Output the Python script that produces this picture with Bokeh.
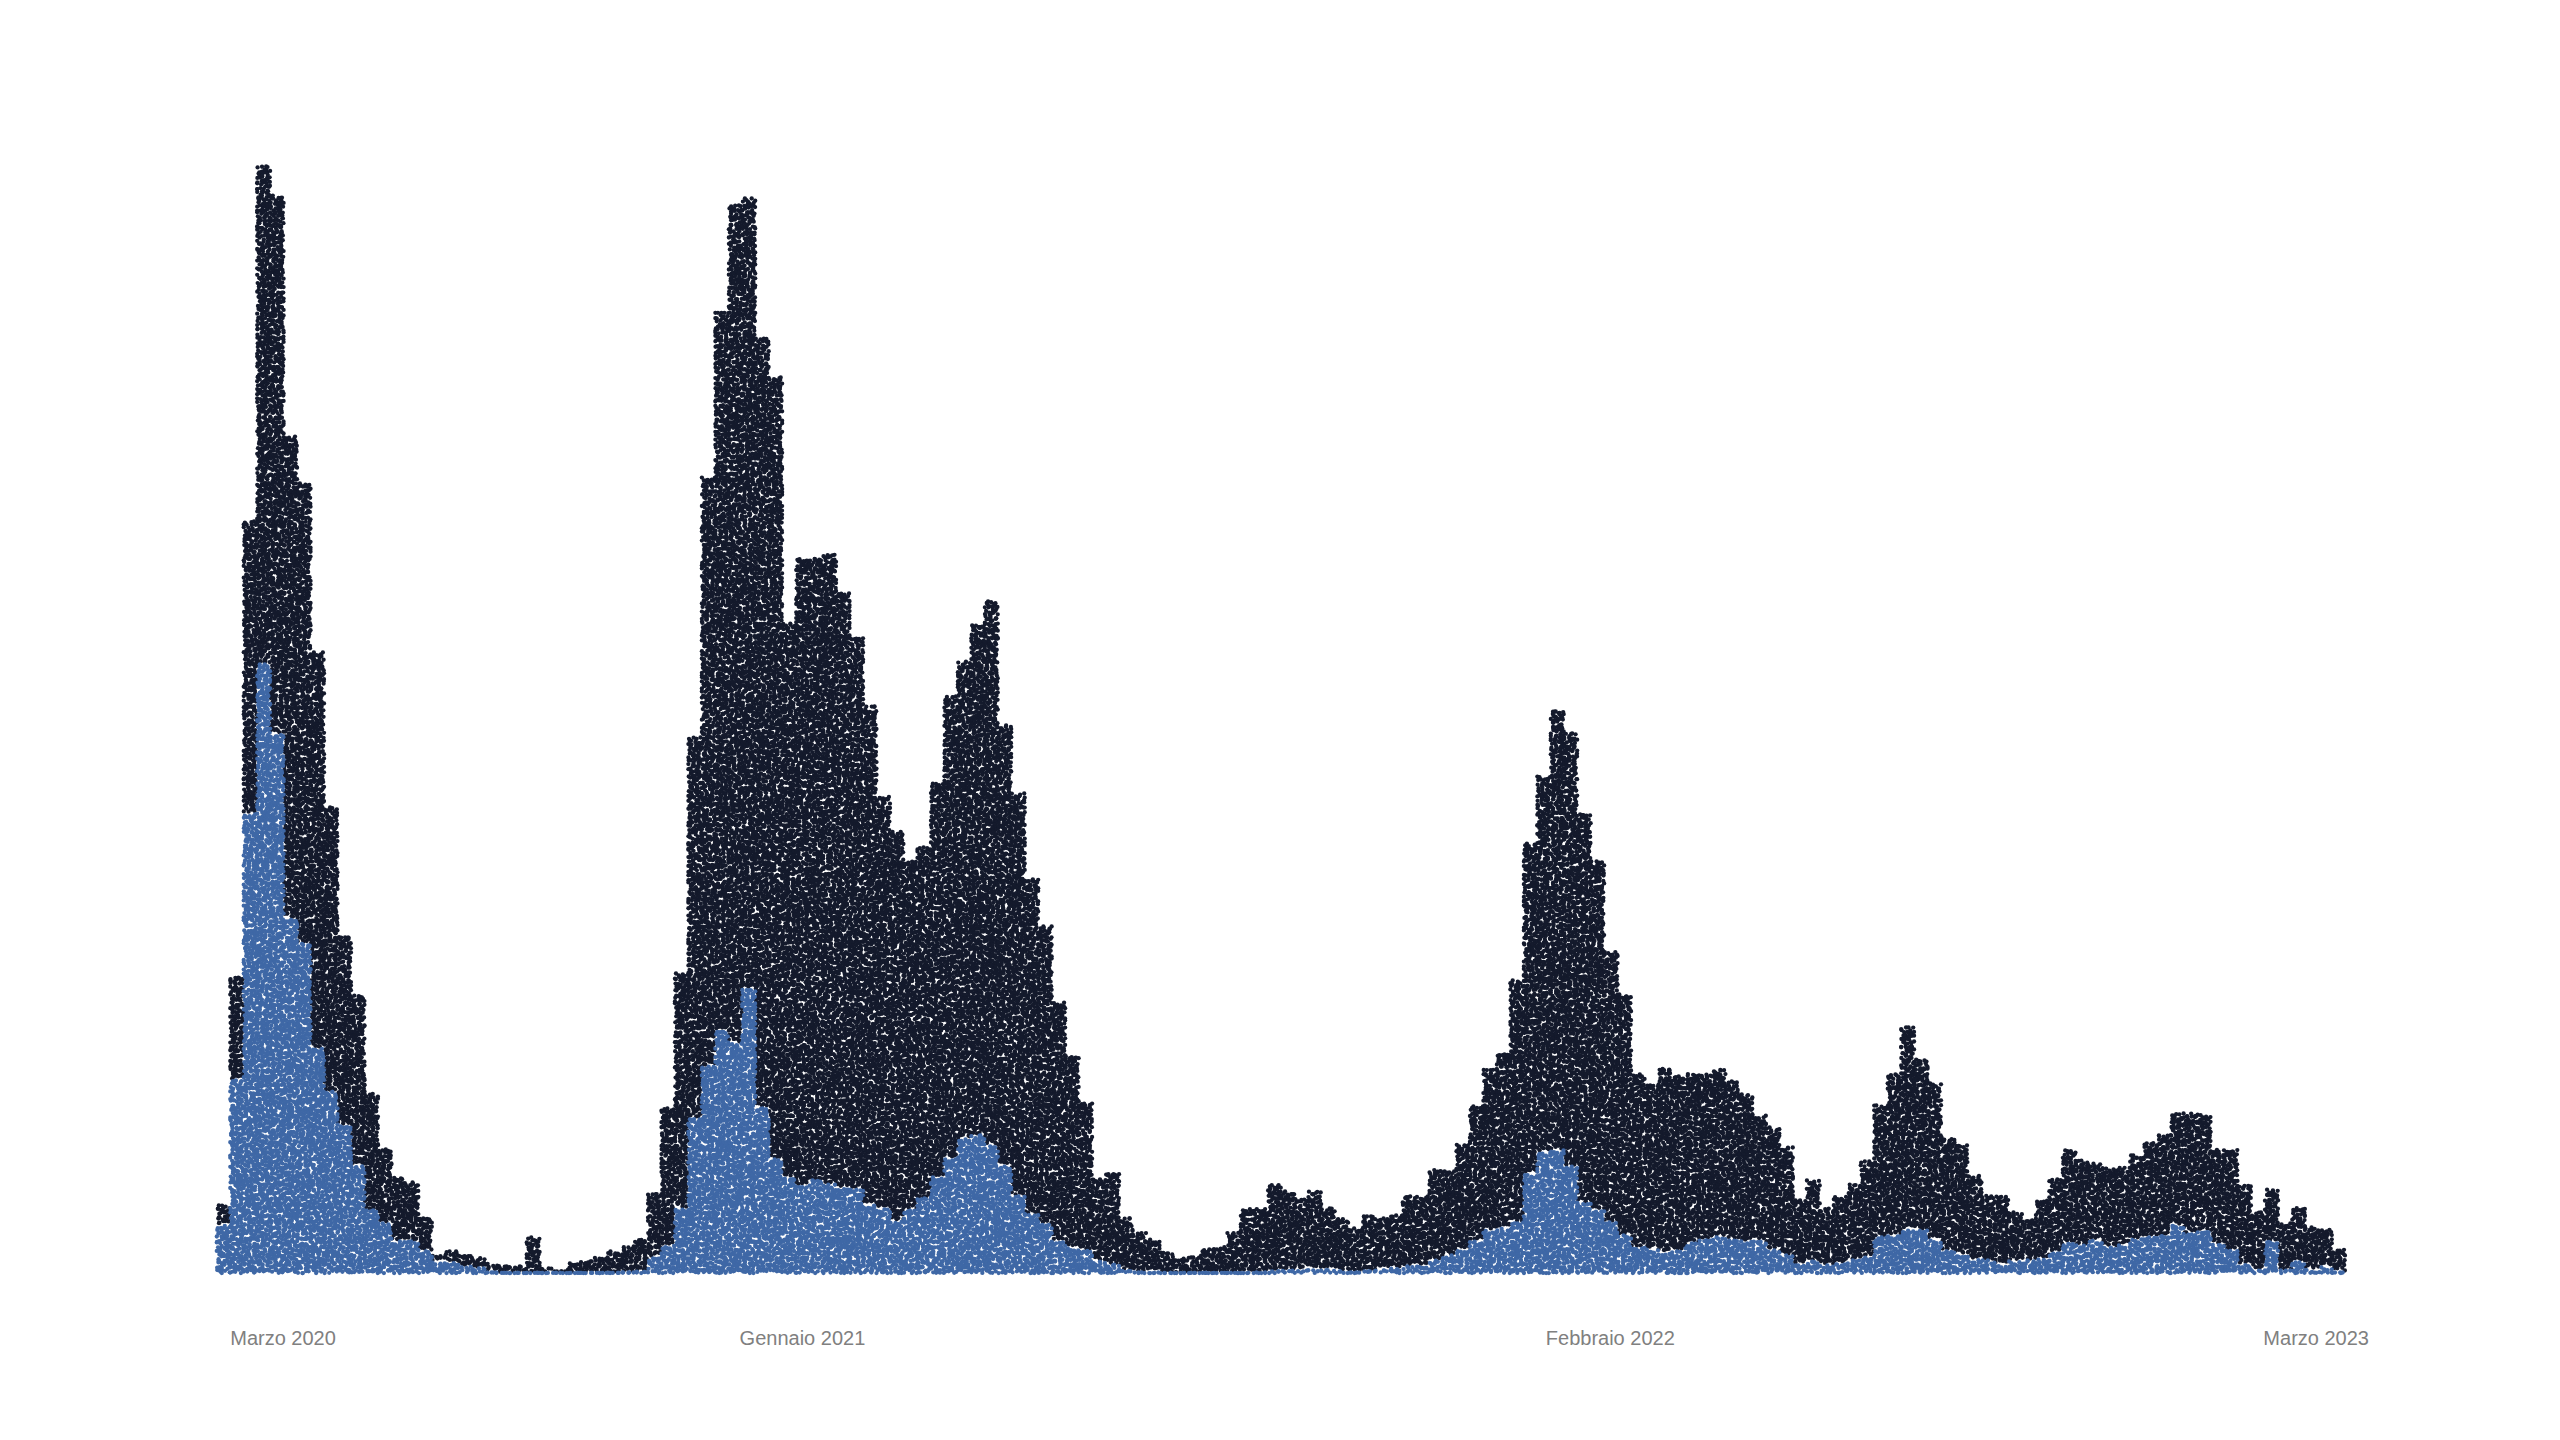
import numpy as np
from bokeh.plotting import figure
from bokeh.models import Range1d, ColumnDataSource
from bokeh.core.properties import value
from bokeh.embed import file_html
from bokeh.resources import INLINE

# weekly totals and the blue part of each total
totale = [71, 300, 755, 1110, 1081, 840, 793, 624, 469, 341, 282, 183, 127, 99, 94, 60,
          21, 25, 22, 19, 13, 10, 10, 39, 8, 6, 13, 15, 19, 25, 30, 37,
          83, 169, 303, 539, 799, 964, 1071, 1078, 938, 899, 653, 718, 718, 722, 684, 640,
          570, 480, 445, 415, 430, 493, 580, 615, 652, 675, 551, 483, 398, 350, 274, 221,
          174, 98, 104, 58, 44, 37, 24, 19, 19, 27, 30, 44, 68, 68, 92, 85,
          78, 85, 68, 58, 48, 60, 58, 61, 80, 80, 107, 105, 133, 170, 207, 224,
          296, 433, 500, 566, 543, 462, 415, 325, 282, 202, 191, 209, 200, 203, 203, 207,
          195, 182, 161, 149, 129, 77, 96, 68, 80, 92, 115, 171, 202, 249, 217, 193,
          139, 131, 101, 81, 81, 64, 58, 77, 97, 127, 116, 113, 108, 109, 121, 134,
          141, 163, 163, 162, 127, 127, 91, 64, 87, 53, 69, 49, 47, 27]
blu = [51, 196, 462, 612, 542, 358, 333, 228, 185, 151, 110, 66, 53, 35, 35, 25,
       14, 14, 10, 8, 4, 3, 3, 3, 3, 3, 3, 3, 3, 3, 4, 5,
       19, 31, 68, 158, 210, 245, 233, 287, 169, 117, 99, 90, 96, 92, 88, 87,
       71, 67, 55, 66, 78, 99, 117, 137, 141, 131, 110, 80, 62, 52, 35, 28,
       26, 15, 12, 6, 4, 4, 2, 2, 2, 3, 3, 3, 4, 4, 5, 6,
       7, 7, 7, 5, 4, 5, 7, 8, 10, 11, 16, 21, 27, 35, 46, 48,
       54, 102, 124, 126, 110, 73, 66, 54, 41, 29, 27, 24, 25, 33, 37, 39,
       37, 35, 36, 27, 21, 12, 15, 11, 12, 16, 19, 39, 41, 47, 46, 36,
       26, 22, 17, 16, 11, 15, 16, 17, 24, 33, 31, 36, 29, 31, 37, 39,
       41, 51, 42, 46, 32, 26, 12, 7, 35, 6, 14, 7, 9, 4]
etichette = ["Marzo 2020", "Gennaio 2021", "Febbraio 2022", "Marzo 2023"]
settimane_etichette = [1.02, 38.82, 98.65, 151.9]

PX_WEEK = 13.475
NX = 5
CELL = 2.85
JIT = 3.5
DOT = 4.3
W, H = 2544, 1424
X0, Y0 = 216, 1274


def frac(a):
    return a - np.floor(a)


def dots(low, high, start):
    """One dot per unit: each week's dots fill its column, with a small shake."""
    xs, ys = [], []
    k = start
    for week, (lo, hi) in enumerate(zip(low, high)):
        h = hi - lo
        if h <= 0:
            continue
        bottom = lo + (1.4 if lo == 0 else 0)
        top = max(hi - 2.0, bottom + 0.2)
        ny = max(1, int(round((top - bottom) / CELL)))
        col, row = np.meshgrid(np.arange(NX), np.arange(ny))
        col, row = col.ravel(), row.ravel()
        idx = np.arange(k, k + col.size)
        k += col.size
        ju = frac(np.sin(idx * 12.9898) * 43758.5453) - 0.5
        jv = frac(np.sin(idx * 78.233) * 12543.1234) - 0.5
        px = (col + 0.5) * PX_WEEK / NX + ju * JIT
        py = bottom + (row + 0.5) * (top - bottom) / ny + jv * JIT
        xs.append(week + np.clip(px, 0.3, PX_WEEK - 0.3) / PX_WEEK)
        ys.append(np.clip(py, bottom, top))
    return np.concatenate(xs), np.concatenate(ys)


p = figure(width=W, height=H, output_backend="svg", toolbar_location=None,
           x_range=Range1d(-X0 / PX_WEEK, (W - X0) / PX_WEEK),
           y_range=Range1d(-(H - Y0), Y0), min_border=0,
           background_fill_color="white", border_fill_color="white")
p.axis.visible = False
p.grid.visible = False
p.outline_line_color = None

x_d, y_d = dots(blu, totale, 1)
x_b, y_b = dots([0] * len(blu), blu, 500000)
p.scatter(x_d, y_d, size=DOT, marker="circle", fill_color="#141a2c", line_color=None)
p.scatter(x_b, y_b, size=DOT, marker="circle", fill_color="#3f68a6", line_color=None)

src = ColumnDataSource(dict(x=settimane_etichette, y=[-63] * 4, t=etichette))
p.text(x="x", y="y", text="t", source=src, text_font=value("Liberation Sans"),
       text_font_size="20px", text_color="#808080", text_align="left", text_baseline="middle")

open("out.html", "w").write(file_html(p, INLINE))
